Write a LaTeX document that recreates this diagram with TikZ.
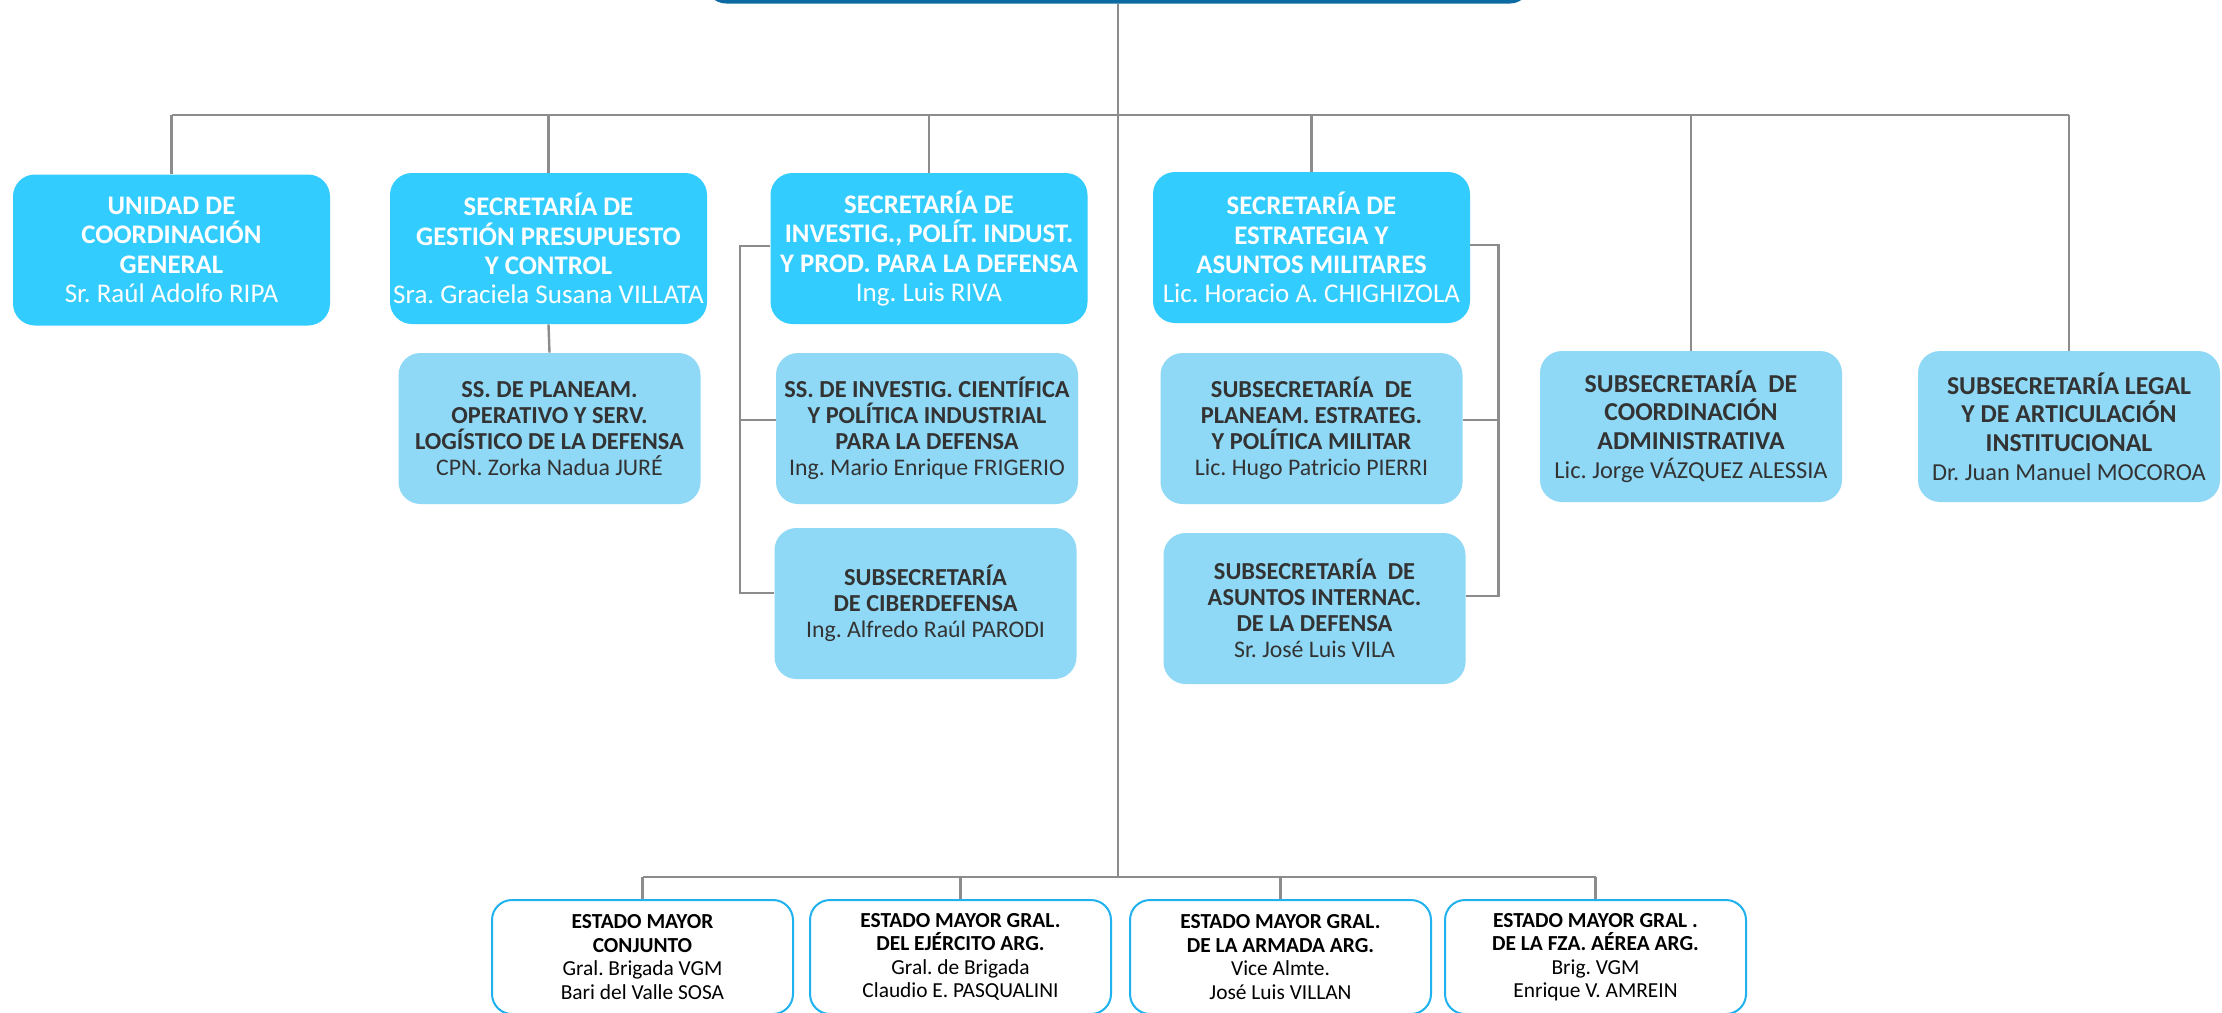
\documentclass[tikz,border=0pt]{standalone}
\usepackage{fontspec}
\setmainfont{Carlito}
\usetikzlibrary{calc}
\frenchspacing
\definecolor{topfill}{HTML}{33CCFF}
\definecolor{subfill}{HTML}{8FD9F7}
\definecolor{subtext}{HTML}{333333}
\definecolor{linegray}{HTML}{8C8C8C}
\definecolor{darkblue}{HTML}{0B6AA2}
\definecolor{bordercyan}{HTML}{1FB2EE}
\newcommand{\headsize}{}
\newcommand{\hb}[1]{\textbf{\headsize #1}}
\begin{document}
\begin{tikzpicture}[x=0.5pt,y=-0.5pt,
  topbox/.style={rounded corners=11pt, fill=topfill, text=white, align=center, inner sep=0pt,
    minimum width=158.5pt, minimum height=75.5pt,
    font={\renewcommand{\headsize}{\fontsize{13.4}{14.2}\selectfont}\fontsize{13.5}{14.6}\selectfont}},
  subbox/.style={rounded corners=11pt, fill=subfill, text=subtext, align=center, inner sep=0pt,
    minimum width=151pt, minimum height=75.5pt,
    font={\renewcommand{\headsize}{\fontsize{12.2}{13}\selectfont}\fontsize{11.9}{13}\selectfont}},
  bigsub/.style={font={\renewcommand{\headsize}{\fontsize{12.9}{14.4}\selectfont}\fontsize{12.2}{14.4}\selectfont}},
  botbox/.style={rounded corners=10pt, draw=bordercyan, line width=1pt, fill=white, text=black, align=center,
    inner sep=0pt, minimum width=150.5pt, minimum height=57pt,
    font={\renewcommand{\headsize}{\fontsize{10.7}{11.7}\selectfont}\fontsize{10.7}{11.7}\selectfont}},
  conn/.style={draw=linegray, line width=1.2pt}]
\useasboundingbox (0,0) rectangle (2222,1012);
\clip (0,0) rectangle (2222,1012);
\fill[white] (0,0) rectangle (2222,1012);

% top strip (ministry box, cut off)
\node[fill=darkblue, rounded corners=10pt, inner sep=0pt, minimum width=412pt, minimum height=33.5pt] (mdef) at (1118,-30) {};

% top-level boxes
\node[topbox] (ucg) at (171.5,250) {\hb{UNIDAD DE}\\\hb{COORDINACIÓN}\\\hb{GENERAL}\\Sr. Raúl Adolfo RIPA};
\node[topbox] (sgp) at (548.5,248.5) {\hb{SECRETARÍA DE}\\\hb{GESTIÓN PRESUPUESTO}\\\hb{Y CONTROL}\\Sra. Graciela Susana VILLATA};
\node[topbox] (sip) at (929,248.5) {\hb{SECRETARÍA DE}\\\hb{INVESTIG., POLÍT. INDUST.}\\\hb{Y PROD. PARA LA DEFENSA}\\Ing. Luis RIVA};
\node[topbox] (sea) at (1311.5,247.5) {\hb{SECRETARÍA DE}\\\hb{ESTRATEGIA Y}\\\hb{ASUNTOS MILITARES}\\Lic. Horacio A. CHIGHIZOLA};

% sub boxes
\node[subbox] (sspl) at (549.5,428.5) {\hb{SS. DE PLANEAM.}\\\hb{OPERATIVO Y SERV.}\\\hb{LOGÍSTICO DE LA DEFENSA}\\CPN. Zorka Nadua JURÉ};
\node[subbox] (ssic) at (927,428.5) {\hb{SS. DE INVESTIG. CIENTÍFICA}\\\hb{Y POLÍTICA INDUSTRIAL}\\\hb{PARA LA DEFENSA}\\Ing. Mario Enrique FRIGERIO};
\node[subbox] (ssc) at (925.5,603.5) {\hb{SUBSECRETARÍA}\\\hb{DE CIBERDEFENSA}\\Ing. Alfredo Raúl PARODI};
\node[subbox] (sspe) at (1311.5,428.5) {\hb{SUBSECRETARÍA~ DE}\\\hb{PLANEAM. ESTRATEG.}\\\hb{Y POLÍTICA MILITAR}\\Lic. Hugo Patricio PIERRI};
\node[subbox] (ssai) at (1314.5,608.5) {\hb{SUBSECRETARÍA~ DE}\\\hb{ASUNTOS INTERNAC.}\\\hb{DE LA DEFENSA}\\Sr. José Luis VILA};
\node[subbox, bigsub] (ssca) at (1691,426.5) {\hb{SUBSECRETARÍA~ DE}\\\hb{COORDINACIÓN}\\\hb{ADMINISTRATIVA}\\Lic. Jorge VÁZQUEZ ALESSIA};
\node[subbox, bigsub] (ssla) at (2069,426.5) {\hb{SUBSECRETARÍA LEGAL}\\\hb{Y DE ARTICULACIÓN}\\\hb{INSTITUCIONAL}\\Dr. Juan Manuel MOCOROA};

% bottom boxes
\node[botbox] (emc) at (642.5,957) {\hb{ESTADO MAYOR}\\\hb{CONJUNTO}\\Gral. Brigada VGM\\Bari del Valle SOSA};
\node[botbox] (eme) at (960.5,957) {\hb{ESTADO MAYOR GRAL.}\\\hb{DEL EJÉRCITO ARG.}\\Gral. de Brigada\\Claudio E. PASQUALINI};
\node[botbox] (ema) at (1280.5,957) {\hb{ESTADO MAYOR GRAL.}\\\hb{DE LA ARMADA ARG.}\\Vice Almte.\\José Luis VILLAN};
\node[botbox] (emf) at (1595.5,957) {\hb{ESTADO MAYOR GRAL .}\\\hb{DE LA FZA. AÉREA ARG.}\\Brig. VGM\\Enrique V. AMREIN};

% connectors
\coordinate (hub) at (1118,115);
\coordinate (hub2) at (1118,877);
\draw[conn] (mdef.south) -- (hub2);
\draw[conn] (ucg.north |- hub) -- (ssla.north |- hub);
\foreach \n in {ucg,sgp,sip,sea,ssca,ssla} \draw[conn] (\n.north) -- (\n.north |- hub);
\draw[conn] (sgp.south) -- (sspl.north);
\draw[conn] (emc.north |- hub2) -- (emf.north |- hub2);
\foreach \n in {emc,eme,ema,emf} \draw[conn] (\n.north) -- (\n.north |- hub2);

\coordinate (lbt) at (740,246);
\coordinate (lbm) at (740,420);
\coordinate (lbb) at (740,593);
\draw[conn] (sip.west |- lbt) -- (lbt) -- (lbb) -- (lbb -| ssc.west);
\draw[conn] (lbm) -- (lbm -| ssic.west);

\coordinate (rbt) at (1498.5,245);
\coordinate (rbm) at (1498.5,420);
\coordinate (rbb) at (1498.5,596);
\draw[conn] (sea.east |- rbt) -- (rbt) -- (rbb) -- (rbb -| ssai.east);
\draw[conn] (rbm) -- (rbm -| sspe.east);
\end{tikzpicture}
\end{document}
